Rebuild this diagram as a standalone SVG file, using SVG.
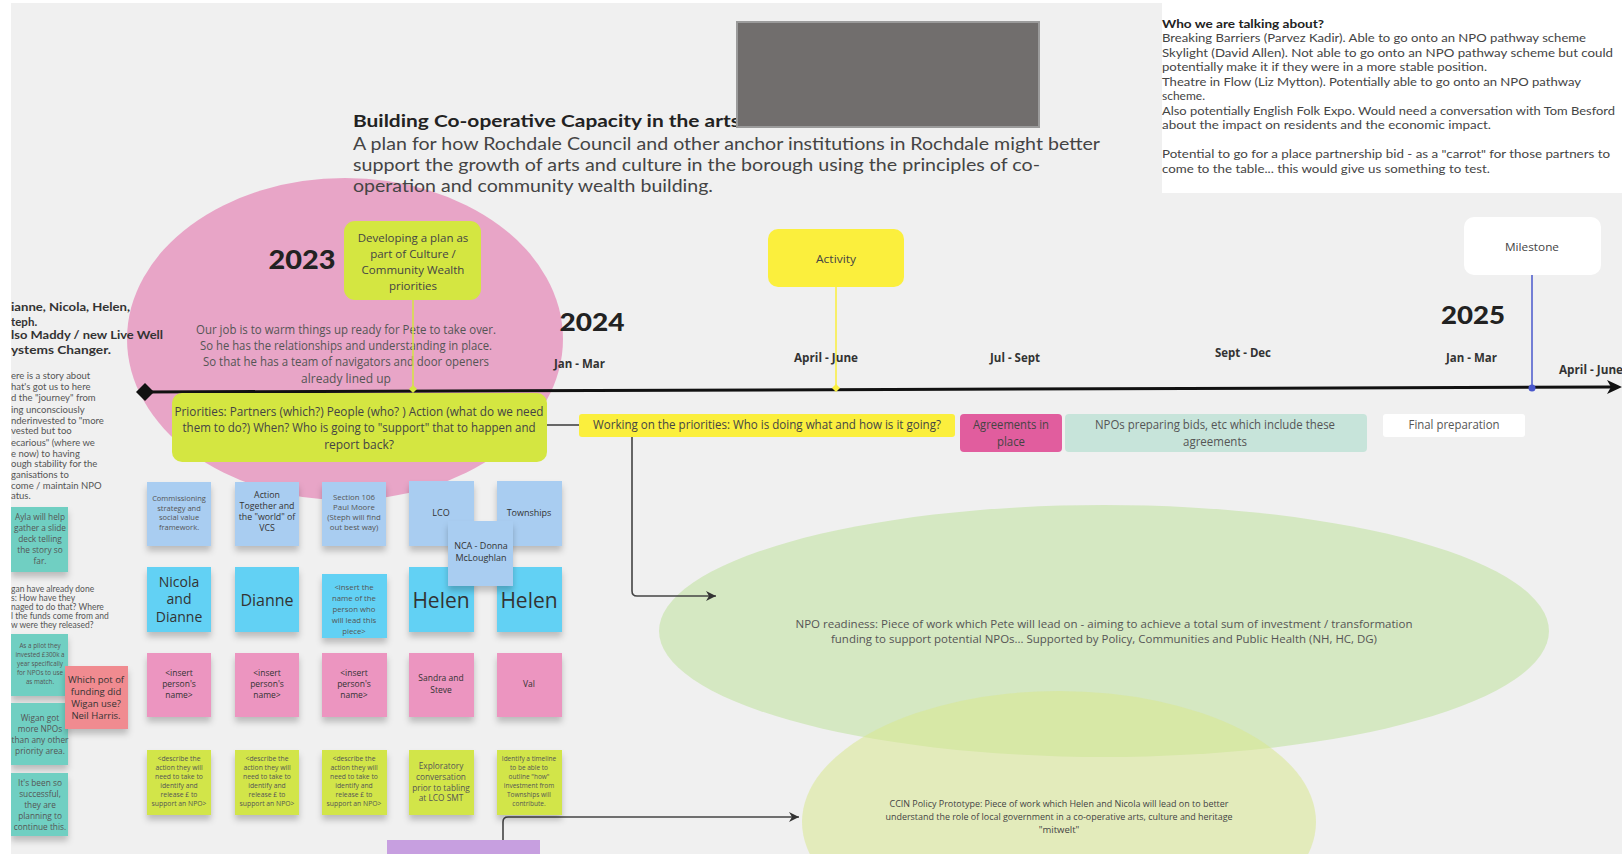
<svg xmlns="http://www.w3.org/2000/svg" width="1622" height="854" viewBox="0 0 1622 854">
<defs>
<style>
.os{font-family:"Open Sans","Liberation Sans",sans-serif}
.geo{font-family:Lato,"Liberation Sans",sans-serif}
.c{text-anchor:middle}
.dk{fill:#333}
.md{fill:#555}
.note{filter:url(#sh)}
.lb{fill:#a9cdf1}
.cy{fill:#62d1f4}
.pk{fill:#ec95c0}
.lm{fill:#d2e548}
.tl{fill:#6fcfc2}
.mon{font-family:"Open Sans","Liberation Sans",sans-serif;font-weight:700;font-size:12px;fill:#333}
.conn{fill:none;stroke:#444;stroke-width:1.6}
</style>
<filter id="sh" x="-20%" y="-20%" width="140%" height="150%">
<feDropShadow dx="0" dy="5" stdDeviation="3" flood-color="#000" flood-opacity="0.22"/>
</filter>
<marker id="arr" markerUnits="userSpaceOnUse" markerWidth="12" markerHeight="12" refX="10" refY="5" orient="auto">
<path d="M0,0 L10,5 L0,10 L3,5 z" fill="#333"/>
</marker>
</defs>
<rect x="0" y="0" width="1622" height="854" fill="#f0f0f0"/>

<g id="pink-ellipse"><ellipse cx="345" cy="339" rx="218" ry="161" fill="#e8a5c7"/></g>

<g id="green-ellipses">
<ellipse cx="1104" cy="631" rx="445" ry="126" fill="#d5e8c2"/>
<ellipse cx="1059" cy="822" rx="257" ry="131" fill="#d8e88f" fill-opacity="0.55"/>
</g>

<g id="right-panel">
<rect x="1162" y="0" width="460" height="193" fill="#ffffff"/>
<g class="geo" font-size="12" fill="#444">
<text x="1162" y="28" font-weight="700" fill="#222" textLength="162" lengthAdjust="spacingAndGlyphs">Who we are talking about?</text>
<text x="1162" y="42" textLength="424" lengthAdjust="spacingAndGlyphs">Breaking Barriers (Parvez Kadir).  Able to go onto an NPO pathway scheme</text>
<text x="1162" y="57" textLength="451" lengthAdjust="spacingAndGlyphs">Skylight (David Allen).  Not able to go onto an NPO pathway scheme but could</text>
<text x="1162" y="71" textLength="325" lengthAdjust="spacingAndGlyphs">potentially make it if they were in a more stable position.</text>
<text x="1162" y="86" textLength="419" lengthAdjust="spacingAndGlyphs">Theatre in Flow (Liz Mytton).  Potentially able to go onto an NPO pathway</text>
<text x="1162" y="100">scheme.</text>
<text x="1162" y="115" textLength="453" lengthAdjust="spacingAndGlyphs">Also potentially English Folk Expo.  Would need a conversation with Tom Besford</text>
<text x="1162" y="129" textLength="329" lengthAdjust="spacingAndGlyphs">about the impact on residents and the economic impact.</text>
<text x="1162" y="158" textLength="448" lengthAdjust="spacingAndGlyphs">Potential to go for a place partnership bid - as a "carrot" for those partners to</text>
<text x="1162" y="173" textLength="328" lengthAdjust="spacingAndGlyphs">come to the table... this would give us something to test.</text>
</g>
</g>

<g id="title">
<text x="353" y="127" class="geo" font-size="17" font-weight="700" fill="#222" textLength="387" lengthAdjust="spacingAndGlyphs">Building Co-operative Capacity in the arts</text>
<g class="geo" font-size="18" fill="#444">
<text x="353" y="150" textLength="747" lengthAdjust="spacingAndGlyphs">A plan for how Rochdale Council and other anchor institutions in Rochdale might better</text>
<text x="353" y="171" textLength="687" lengthAdjust="spacingAndGlyphs">support the growth of arts and culture in the borough using the principles of co-</text>
<text x="353" y="192" textLength="360" lengthAdjust="spacingAndGlyphs">operation and community wealth building.</text>
</g>
</g>

<g id="redaction"><rect x="737" y="22" width="302" height="105" fill="#716e6d" stroke="#9b9b9b" stroke-width="2"/></g>

<g id="years" class="geo" font-weight="900" fill="#222">
<text x="302" y="269" class="c" font-size="26" textLength="67" lengthAdjust="spacingAndGlyphs">2023</text>
<text x="592" y="331" class="c" font-size="25" textLength="65" lengthAdjust="spacingAndGlyphs">2024</text>
<text x="1473" y="324" class="c" font-size="25" textLength="64" lengthAdjust="spacingAndGlyphs">2025</text>
</g>

<g id="our-job" class="os c md" font-size="12">
<text x="346" y="334" textLength="300" lengthAdjust="spacingAndGlyphs">Our job is to warm things up ready for Pete to take over.</text>
<text x="346" y="350" textLength="292" lengthAdjust="spacingAndGlyphs">So he has the relationships and understanding in place.</text>
<text x="346" y="366" textLength="286" lengthAdjust="spacingAndGlyphs">So that he has a team of navigators and door openers</text>
<text x="346" y="383">already lined up</text>
</g>

<g id="left-text">
<g class="geo" font-size="11.5" font-weight="700" fill="#333">
<text x="11" y="311" textLength="119" lengthAdjust="spacingAndGlyphs">ianne, Nicola, Helen,</text>
<text x="11" y="326">teph.</text>
<text x="11" y="339" textLength="152" lengthAdjust="spacingAndGlyphs">lso Maddy / new Live Well</text>
<text x="11" y="354" textLength="100" lengthAdjust="spacingAndGlyphs">ystems Changer.</text>
</g>
<g class="geo md" font-size="9.5">
<text x="11" y="379">ere is a story about</text>
<text x="11" y="390">hat's got us to here</text>
<text x="11" y="401">d the "journey" from</text>
<text x="11" y="413">ing unconsciously</text>
<text x="11" y="424">nderinvested to "more</text>
<text x="11" y="434">vested but too</text>
<text x="11" y="446">ecarious" (where we</text>
<text x="11" y="457">e now) to having</text>
<text x="11" y="467">ough stability for the</text>
<text x="11" y="478">ganisations to</text>
<text x="11" y="489">come / maintain NPO</text>
<text x="11" y="499">atus.</text>
</g>
<g class="geo md" font-size="8.5">
<text x="11" y="592">gan have already done</text>
<text x="11" y="601">s:  How have they</text>
<text x="11" y="610">naged to do that?  Where</text>
<text x="11" y="619">l the funds come from and</text>
<text x="11" y="628">w were they released?</text>
</g>
</g>

<g id="connectors">
<line x1="145" y1="392" x2="1612" y2="387" stroke="#111" stroke-width="3"/>
<polygon points="1607,380 1622,387 1607,394 1611,387" fill="#111"/>
<polygon points="136,392 145,383 154,392 145,401" fill="#111"/>
<line x1="413" y1="300" x2="413" y2="389" stroke="#d4e641" stroke-width="1.5"/>
<polygon points="409,389 413,385 417,389 413,393" fill="#d4e641"/>
<line x1="836" y1="287" x2="836" y2="388" stroke="#fbef3d" stroke-width="1.5"/>
<polygon points="832,388 836,384 840,388 836,392" fill="#fbef3d"/>
<line x1="1532" y1="275" x2="1532" y2="388" stroke="#4a58cc" stroke-width="1.5"/>
<circle cx="1532" cy="388" r="3.5" fill="#4a58cc"/>
<line class="conn" x1="547" y1="425" x2="579" y2="425"/>
<path class="conn" d="M632,437 V591 Q632,596 637,596 H716" marker-end="url(#arr)"/>
<path class="conn" d="M503,840 V822 Q503,817 508,817 H799" marker-end="url(#arr)"/>
</g>

<g id="dev-box">
<rect x="344" y="221" width="137" height="79" rx="11" fill="#d4e641"/>
<g class="os c" font-size="11.5" fill="#444">
<text x="413" y="242">Developing a plan as</text>
<text x="413" y="258">part of Culture /</text>
<text x="413" y="274">Community Wealth</text>
<text x="413" y="290">priorities</text>
</g>
</g>

<g id="activity">
<rect x="768" y="229" width="136" height="58" rx="10" fill="#fbef3d"/>
<text x="836" y="263" class="os c" font-size="11.5" fill="#444" textLength="40" lengthAdjust="spacingAndGlyphs">Activity</text>
</g>

<g id="milestone">
<rect x="1464" y="217" width="137" height="58" rx="10" fill="#ffffff"/>
<text x="1532" y="251" class="os c" font-size="11.5" fill="#444" textLength="54" lengthAdjust="spacingAndGlyphs">Milestone</text>
</g>

<g id="months">
<text class="mon" x="554" y="368" textLength="51" lengthAdjust="spacingAndGlyphs">Jan - Mar</text>
<text class="mon" x="794" y="362" textLength="64" lengthAdjust="spacingAndGlyphs">April - June</text>
<text class="mon" x="990" y="362" textLength="50" lengthAdjust="spacingAndGlyphs">Jul - Sept</text>
<text class="mon" x="1215" y="357" textLength="56" lengthAdjust="spacingAndGlyphs">Sept - Dec</text>
<text class="mon" x="1446" y="362" textLength="51" lengthAdjust="spacingAndGlyphs">Jan - Mar</text>
<text class="mon" x="1559" y="374" textLength="64" lengthAdjust="spacingAndGlyphs">April - June</text>
</g>

<g id="priorities">
<rect x="172" y="393" width="375" height="69" rx="10" fill="#d4e641"/>
<g class="os c" font-size="12" fill="#444">
<text x="359" y="416" textLength="369" lengthAdjust="spacingAndGlyphs">Priorities:  Partners (which?)  People (who? )  Action (what do we need</text>
<text x="359" y="432" textLength="353" lengthAdjust="spacingAndGlyphs">them to do?) When? Who is going to "support" that to happen and</text>
<text x="359" y="449">report back?</text>
</g>
</g>

<g id="working">
<rect x="579" y="414" width="376" height="23" rx="3" fill="#fbef3d"/>
<text x="767" y="429" class="os c" font-size="12" fill="#444" textLength="348" lengthAdjust="spacingAndGlyphs">Working on the priorities:  Who is doing what and how is it going?</text>
</g>

<g id="agreements">
<rect x="960" y="414" width="102" height="38" rx="4" fill="#e15d9e"/>
<g class="os c" font-size="12" fill="#444">
<text x="1011" y="429" textLength="76" lengthAdjust="spacingAndGlyphs">Agreements in</text>
<text x="1011" y="446" textLength="28" lengthAdjust="spacingAndGlyphs">place</text>
</g>
</g>

<g id="npos-bids">
<rect x="1065" y="414" width="302" height="38" rx="4" fill="#c7e4da"/>
<g class="os c" font-size="12" fill="#555">
<text x="1215" y="429" textLength="240" lengthAdjust="spacingAndGlyphs">NPOs preparing bids, etc which include these</text>
<text x="1215" y="446" textLength="64" lengthAdjust="spacingAndGlyphs">agreements</text>
</g>
</g>

<g id="final-prep">
<rect x="1383" y="414" width="142" height="23" rx="3" fill="#ffffff"/>
<text x="1454" y="429" class="os c" font-size="12" fill="#555" textLength="91" lengthAdjust="spacingAndGlyphs">Final preparation</text>
</g>

<g id="npo-readiness" class="os c" font-size="11" fill="#555">
<text x="1104" y="628" textLength="617" lengthAdjust="spacingAndGlyphs">NPO readiness:  Piece of work which Pete will lead on - aiming to achieve a total sum of investment / transformation</text>
<text x="1104" y="643" textLength="546" lengthAdjust="spacingAndGlyphs">funding to support potential NPOs... Supported by Policy, Communities and Public Health (NH, HC, DG)</text>
</g>

<g id="ccin" class="os c" font-size="9.5" fill="#444">
<text x="1059" y="807" textLength="339" lengthAdjust="spacingAndGlyphs">CCIN Policy Prototype:  Piece of work which Helen and Nicola will lead on to better</text>
<text x="1059" y="820" textLength="347" lengthAdjust="spacingAndGlyphs">understand the role of local government in a co-operative arts, culture and heritage</text>
<text x="1059" y="833">"mitwelt"</text>
</g>

<g id="sticky-row1">
<g id="n-commissioning"><rect class="note lb" x="147" y="482" width="64" height="64"/>
<g class="os c md" font-size="7.5"><text x="179" y="501">Commissioning</text><text x="179" y="511">strategy and</text><text x="179" y="520">social value</text><text x="179" y="530">framework.</text></g></g>
<g id="n-action"><rect class="note lb" x="235" y="482" width="64" height="64"/>
<g class="os c dk" font-size="8.8"><text x="267" y="498">Action</text><text x="267" y="509">Together and</text><text x="267" y="520">the "world" of</text><text x="267" y="531">VCS</text></g></g>
<g id="n-section106"><rect class="note lb" x="322" y="482" width="64" height="64"/>
<g class="os c md" font-size="7.8"><text x="354" y="500">Section 106</text><text x="354" y="510">Paul Moore</text><text x="354" y="520">(Steph will find</text><text x="354" y="530">out best way)</text></g></g>
<g id="n-lco"><rect class="note lb" x="409" y="481" width="65" height="65"/>
<text x="441" y="516" class="os c dk" font-size="9">LCO</text></g>
<g id="n-townships"><rect class="note lb" x="497" y="481" width="65" height="65"/>
<text x="529" y="516" class="os c dk" font-size="9">Townships</text></g>
</g>

<g id="sticky-row2">
<g id="n-nicola"><rect class="note cy" x="147" y="567" width="64" height="65"/>
<g class="os c dk" font-size="14"><text x="179" y="587">Nicola</text><text x="179" y="604">and</text><text x="179" y="622">Dianne</text></g></g>
<g id="n-dianne"><rect class="note cy" x="235" y="567" width="64" height="65"/>
<text x="267" y="606" class="os c dk" font-size="16">Dianne</text></g>
<g id="n-insert-lead"><rect class="note cy" x="322" y="574" width="65" height="64"/>
<g class="os c md" font-size="7.8"><text x="354" y="590">&lt;insert the</text><text x="354" y="601">name of the</text><text x="354" y="612">person who</text><text x="354" y="623">will lead this</text><text x="354" y="634">piece&gt;</text></g></g>
<g id="n-helen1"><rect class="note cy" x="409" y="567" width="65" height="65"/>
<text x="441" y="608" class="os c dk" font-size="21">Helen</text></g>
<g id="n-helen2"><rect class="note cy" x="497" y="567" width="65" height="65"/>
<text x="529" y="608" class="os c dk" font-size="21">Helen</text></g>
</g>

<g id="n-nca"><rect class="note" fill="#a9cdf1" x="448" y="521" width="65" height="65"/>
<g class="os c dk" font-size="9"><text x="481" y="549">NCA - Donna</text><text x="481" y="561">McLoughlan</text></g></g>

<g id="sticky-row3">
<g id="n-p1"><rect class="note pk" x="147" y="653" width="64" height="64"/>
<g class="os c dk" font-size="8.5"><text x="179" y="676">&lt;insert</text><text x="179" y="687">person's</text><text x="179" y="698">name&gt;</text></g></g>
<g id="n-p2"><rect class="note pk" x="235" y="653" width="64" height="64"/>
<g class="os c dk" font-size="8.5"><text x="267" y="676">&lt;insert</text><text x="267" y="687">person's</text><text x="267" y="698">name&gt;</text></g></g>
<g id="n-p3"><rect class="note pk" x="322" y="653" width="65" height="64"/>
<g class="os c dk" font-size="8.5"><text x="354" y="676">&lt;insert</text><text x="354" y="687">person's</text><text x="354" y="698">name&gt;</text></g></g>
<g id="n-sandra"><rect class="note pk" x="409" y="653" width="65" height="64"/>
<g class="os c dk" font-size="8.5"><text x="441" y="681">Sandra and</text><text x="441" y="693">Steve</text></g></g>
<g id="n-val"><rect class="note pk" x="497" y="653" width="65" height="64"/>
<text x="529" y="687" class="os c dk" font-size="8.5">Val</text></g>
</g>

<g id="sticky-row4">
<g id="n-d1"><rect class="note lm" x="147" y="750" width="64" height="65"/>
<g class="os c md" font-size="6.8"><text x="179" y="761">&lt;describe the</text><text x="179" y="770">action they will</text><text x="179" y="779">need to take to</text><text x="179" y="788">identify and</text><text x="179" y="797">release £ to</text><text x="179" y="806">support an NPO&gt;</text></g></g>
<g id="n-d2"><rect class="note lm" x="235" y="750" width="64" height="65"/>
<g class="os c md" font-size="6.8"><text x="267" y="761">&lt;describe the</text><text x="267" y="770">action they will</text><text x="267" y="779">need to take to</text><text x="267" y="788">identify and</text><text x="267" y="797">release £ to</text><text x="267" y="806">support an NPO&gt;</text></g></g>
<g id="n-d3"><rect class="note lm" x="322" y="750" width="65" height="65"/>
<g class="os c md" font-size="6.8"><text x="354" y="761">&lt;describe the</text><text x="354" y="770">action they will</text><text x="354" y="779">need to take to</text><text x="354" y="788">identify and</text><text x="354" y="797">release £ to</text><text x="354" y="806">support an NPO&gt;</text></g></g>
<g id="n-exploratory"><rect class="note lm" x="409" y="750" width="65" height="65"/>
<g class="os c md" font-size="8.3"><text x="441" y="769">Exploratory</text><text x="441" y="780">conversation</text><text x="441" y="791">prior to tabling</text><text x="441" y="801">at LCO SMT</text></g></g>
<g id="n-identify"><rect class="note lm" x="497" y="750" width="65" height="65"/>
<g class="os c md" font-size="6.5"><text x="529" y="761">Identify a timeline</text><text x="529" y="770">to be able to</text><text x="529" y="779">outline "how"</text><text x="529" y="788">investment from</text><text x="529" y="797">Townships will</text><text x="529" y="806">contribute.</text></g></g>
</g>

<g id="purple-note"><rect x="387" y="840" width="153" height="14" fill="#c79fe0"/></g>

<g id="left-notes">
<g id="n-ayla"><rect class="note tl" x="11" y="507" width="57" height="65"/>
<g class="os c md" font-size="8.3"><text x="40" y="520">Ayla will help</text><text x="40" y="531">gather a slide</text><text x="40" y="542">deck telling</text><text x="40" y="553">the story so</text><text x="40" y="564">far.</text></g></g>
<g id="n-pilot"><rect class="note tl" x="11" y="634" width="57" height="62"/>
<g class="os c md" font-size="6.3"><text x="40" y="648">As a pilot they</text><text x="40" y="657">invested £300k a</text><text x="40" y="666">year specifically</text><text x="40" y="675">for NPOs to use</text><text x="40" y="684">as match.</text></g></g>
<g id="n-wigangot"><rect class="note tl" x="11" y="703" width="57" height="62"/>
<g class="os c md" font-size="8.3"><text x="40" y="721">Wigan got</text><text x="40" y="732">more NPOs</text><text x="40" y="743">than any other</text><text x="40" y="754">priority area.</text></g></g>
<g id="n-success"><rect class="note tl" x="11" y="773" width="57" height="63"/>
<g class="os c md" font-size="8.3"><text x="40" y="786">It's been so</text><text x="40" y="797">successful,</text><text x="40" y="808">they are</text><text x="40" y="819">planning to</text><text x="40" y="830">continue this.</text></g></g>
<g id="n-whichpot"><rect class="note" fill="#f08b90" x="65" y="666" width="63" height="63"/>
<g class="os c dk" font-size="9.5"><text x="96" y="683">Which pot of</text><text x="96" y="695">funding did</text><text x="96" y="707">Wigan use?</text><text x="96" y="719">Neil Harris.</text></g></g>
</g>

<g id="frame">
<rect x="0" y="0" width="11" height="854" fill="#ffffff"/>
<rect x="0" y="0" width="1162" height="3" fill="#ffffff"/>
</g>
</svg>
